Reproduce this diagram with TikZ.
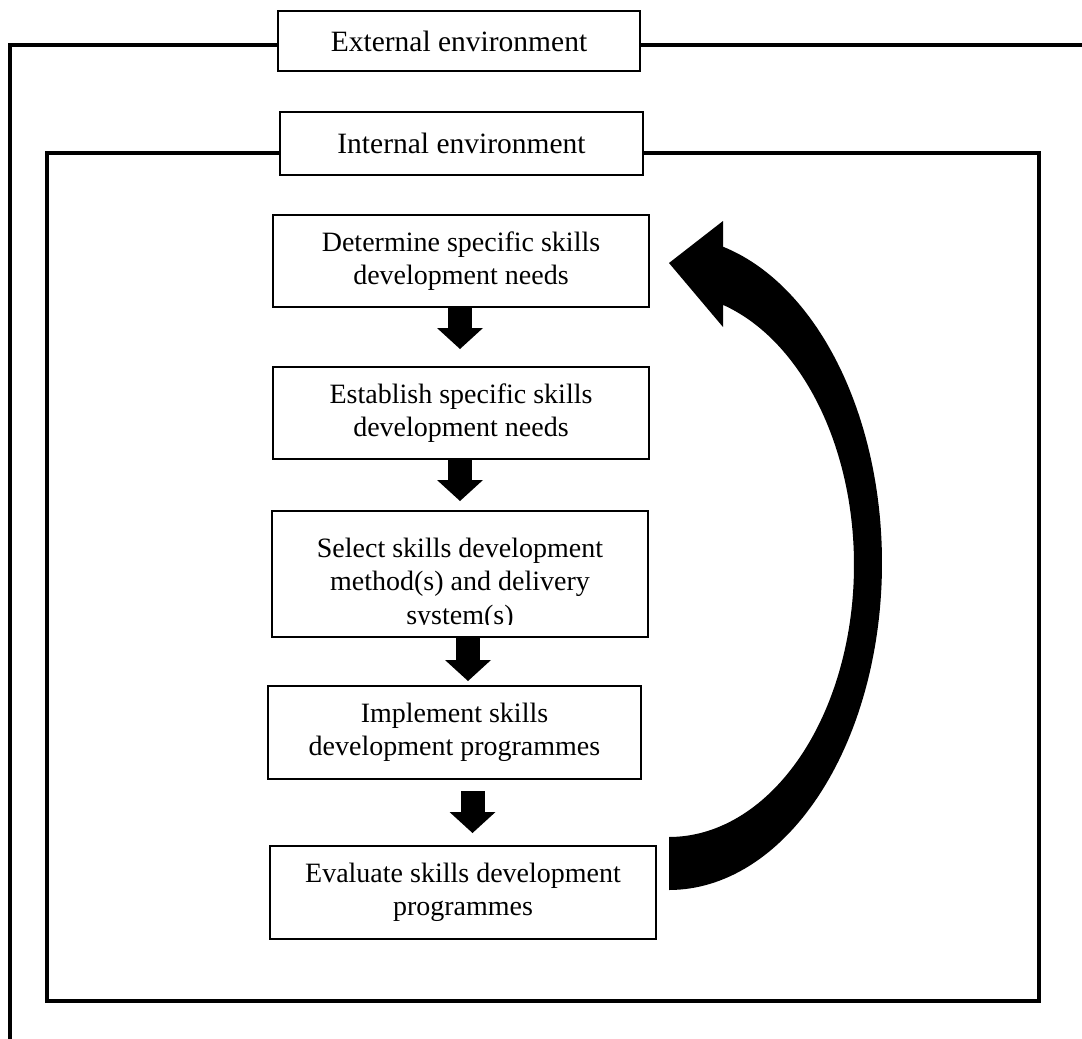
\documentclass[tikz,border=0pt]{standalone}
\usepackage{fontspec}
\setmainfont{Liberation Serif}
\usetikzlibrary{arrows.meta,calc}
\begin{document}
\begin{tikzpicture}[x=1pt,y=-1pt,
  frame/.style={line width=4pt,line join=miter},
  txt/.style={font=\fontsize{28}{33.5}\selectfont},
  envbox/.style={font=\fontsize{29.5}{34}\selectfont,draw,line width=2pt,fill=white,inner sep=0pt,outer sep=0pt},
  stepbox/.style={txt,draw,line width=2pt,fill=white,inner sep=0pt,outer sep=0pt,align=center},
  flow/.style={line width=24pt,-{Triangle[length=21pt,width=46pt,line width=0pt]}}
]
\useasboundingbox (0,0) rectangle (1082,1039);

% environment labels
\node[envbox,minimum width=362pt,minimum height=60pt] (ext) at (459,41) {External environment};
\node[envbox,minimum width=363pt,minimum height=63pt] (int) at (461.5,143.5) {Internal environment};

% outer (external) frame, open at the bottom and right
\draw[frame] ([yshift=-4pt]ext.west) -| (10,1039);
\draw[frame] ([yshift=-4pt]ext.east) -- (1082,45);

% inner (internal) frame
\draw[frame] ([yshift=-9.5pt]int.west) -- (47,153) -- (47,1001) -- (1039,1001) -- (1039,153) -- ([yshift=-9.5pt]int.east);

% process steps
\node[stepbox,minimum width=376pt,minimum height=92pt,anchor=north west] (b1) at (273,215)
  {Determine specific skills\\development needs};
\node[stepbox,minimum width=376pt,minimum height=92pt,anchor=north west] (b2) at (273,367)
  {Establish specific skills\\development needs};
\node[stepbox,minimum width=376pt,minimum height=126pt,anchor=north west] (b3) at (272,511) {};
\begin{scope}
  \clip ([xshift=2pt]b3.north west) rectangle ([xshift=-2pt,yshift=13pt]b3.south east);
  \node[txt,align=center,inner sep=0pt] (b3text) at (460,584)
    {Select skills development\\method(s) and delivery\\system(s)};
\end{scope}
\node[stepbox,minimum width=373pt,minimum height=93pt,anchor=north west] (b4) at (268,686)
  {Implement skills\\development programmes};
\node[stepbox,minimum width=386pt,minimum height=93pt,anchor=north west] (b5) at (270,846)
  {Evaluate skills development\\programmes};

% block arrows between the steps
\coordinate (a1) at ([xshift=-1pt]b1.south);
\coordinate (a2) at ([xshift=-1pt]b2.south);
\coordinate (a3) at ([xshift=8pt]b3.south);
\coordinate (a4) at ([xshift=18pt]b4.south);
\draw[flow,shorten >=18pt] (a1) -- (a1 |- b2.north);
\draw[flow,shorten >=10pt] (a2) -- (a2 |- b3.north);
\draw[flow,shorten >=5pt] (a3) -- (a3 |- b4.north);
\draw[flow,shorten <=12pt,shorten >=13pt] (a4) -- (a4 |- b5.north);

% curved feedback arrow from the last step back to the first
\fill (669,890)
  -- plot[domain=-90:75.3,samples=120] ({669+213*cos(\x)},{563-327*sin(\x)})
  -- (723,221) -- (669,263) -- (723,327)
  -- plot[domain=73:-90,samples=120] ({669+185*cos(\x)},{565-272*sin(\x)})
  -- cycle;
\end{tikzpicture}
\end{document}
